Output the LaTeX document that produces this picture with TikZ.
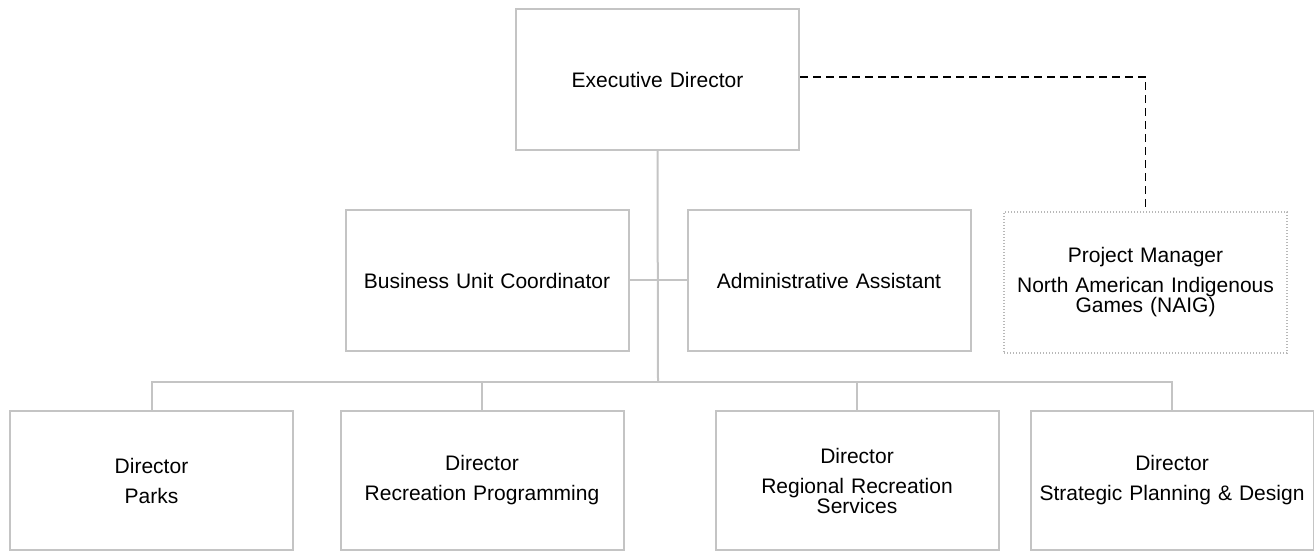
\documentclass[tikz,border=0pt]{standalone}
\usepackage{fontspec}
\setmainfont{Liberation Sans}
\definecolor{boxgray}{HTML}{C4C4C4}
\definecolor{dotgray}{HTML}{B8B8B8}
\tikzset{
  orgbox/.style={draw=boxgray, line width=2pt, minimum width=283pt, minimum height=141pt,
    inner sep=0pt, align=center, text width=270pt,
    font=\fontsize{21}{20}\selectfont},
  lowbox/.style={orgbox, minimum height=139pt},
  dotbox/.style={orgbox, draw=dotgray, line width=1.4pt, dash pattern=on 1.4pt off 1.6pt},
  link/.style={draw=boxgray, line width=2pt},
  dashlink/.style={draw=black, line width=1.8pt, dash pattern=on 8pt off 5pt}
}
\begin{document}
\begin{tikzpicture}[x=1pt,y=-1pt]
\useasboundingbox (0,0) rectangle (1314,553);
\node[orgbox] (exec) at (657.5,79.5) {Executive Director};
\node[orgbox] (buc) at (487,280.5) {Business Unit Coordinator};
\node[orgbox] (aa) at (829,280.5) {Administrative Assistant};
\node[dotbox] (pm) at (1145.5,282.5) {Project Manager\\[10pt]North American Indigenous\\Games (NAIG)};
\node[lowbox] (parks) at (151.5,480.5) {Director\\[10pt]Parks};
\node[lowbox] (rp) at (482,480.5) {Director\\[10pt]Recreation Programming};
\node[lowbox] (rr) at (857,480.5) {Director\\[10pt]Regional Recreation\\Services};
\node[lowbox] (sp) at (1172,480.5) {Director\\[10pt]Strategic Planning \& Design};
\coordinate (bus) at (658,382);
\draw[link] (exec.south) -- (bus);
\draw[link] (buc.east) -- (aa.west);
\draw[link] (parks.north) |- (bus);
\draw[link] (rp.north) |- (bus);
\draw[link] (rr.north) |- (bus);
\draw[link] (sp.north) |- (bus);
\draw[dashlink] ([yshift=2.5pt]exec.east) -| (pm.north);
\end{tikzpicture}
\end{document}
